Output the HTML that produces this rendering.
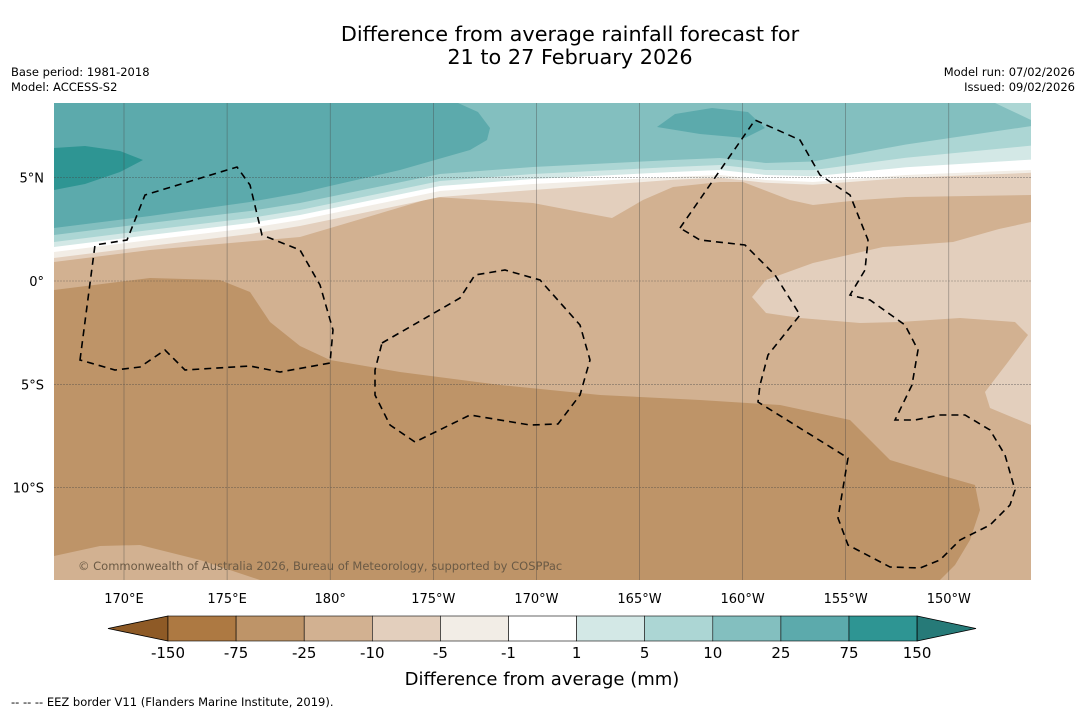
<!DOCTYPE html>
<html><head><meta charset="utf-8"><style>
body{margin:0;background:#fff;width:1085px;height:713px;overflow:hidden;font-family:"Liberation Sans","DejaVu Sans",sans-serif}
svg text{font-family:"DejaVu Sans","Liberation Sans",sans-serif}
</style></head><body>
<svg id="chart" width="1085" height="713" viewBox="0 0 1085 713" xmlns="http://www.w3.org/2000/svg">
<text x="570" y="41" text-anchor="middle" font-size="20.8">Difference from average rainfall forecast for</text>
<text x="570" y="64" text-anchor="middle" font-size="20.8">21 to 27 February 2026</text>
<text x="11" y="76" font-size="11.5">Base period: 1981-2018</text>
<text x="11" y="91" font-size="11.5">Model: ACCESS-S2</text>
<text x="1075" y="76" font-size="11.5" text-anchor="end">Model run: 07/02/2026</text>
<text x="1075" y="91" font-size="11.5" text-anchor="end">Issued: 09/02/2026</text>
<defs><clipPath id="mc"><rect x="54" y="103" width="977" height="477"/></clipPath></defs>
<g id="map" clip-path="url(#mc)">
<rect x="54" y="103" width="977" height="477" fill="#d2b191"/>
<path fill="#e3cfbd" d="M54,103 H1031 V195 L906,197 860,200 813,205 790,200 743,182 720,182 673,187 643,200 612,218 580,212 533,203 435,197 300,237 150,250 54,262 Z"/>
<g id="bands"></g>
<path fill="#acd6d4" d="M995,103 H1031 V120 Z"/>
<path fill="#5caaac" d="M54,103 H458 L478,112 490,128 487,140 470,150 400,170 330,186 300,193 250,202 150,216 54,228 Z"/>
<path fill="#5caaac" d="M657,127 L675,114 712,108 748,112 765,128 745,138 700,134 Z"/>
<path fill="#2e9593" d="M54,148 L85,146 120,151 143,160 120,172 85,184 54,190 Z"/>
<path fill="#e3cfbd" d="M752,297 L766,280 813,263 883,247 953,242 999,229 1031,222 V425 L990,408 985,392 1008,362 1028,335 1015,322 960,318 900,322 860,323 800,318 766,313 Z"/>
<path fill="#be9468" d="M54,290 L150,278 220,280 250,292 270,322 300,346 330,360 400,372 500,385 600,395 700,400 780,405 850,420 890,460 940,475 975,485 980,510 970,540 955,565 940,580 H54 Z"/>
<path fill="#d2b191" d="M54,556 L100,546 140,545 200,560 260,580 H54 Z"/>
</g>
<g id="grid" stroke="#444" stroke-width="0.6" opacity="0.6"></g>
<g id="eez" fill="none" stroke="#000" stroke-width="1.6" stroke-dasharray="7,5">
<path d="M80,360 L95,245 127,240 145,195 237,167 250,185 262,235 300,250 320,285 333,330 330,363 280,372 250,366 185,370 165,350 140,367 115,370 Z"/>
<path d="M382,343 L460,298 475,275 505,270 540,280 580,325 590,360 580,395 558,424 530,425 470,415 415,442 390,425 375,395 375,370 Z"/>
<path d="M680,228 L755,120 800,140 820,175 850,195 868,240 865,270 850,295 870,300 905,325 918,350 912,385 895,420 915,420 940,415 965,415 990,430 1005,455 1015,490 1010,505 990,525 960,540 940,560 920,568 890,567 848,545 838,518 848,458 758,402 760,385 768,355 800,315 775,275 745,245 700,240 Z"/>
</g>
<text x="78" y="570" font-size="11.5" fill="#6b5a45">© Commonwealth of Australia 2026, Bureau of Meteorology, supported by COSPPac</text>
<g id="axes"></g>
<g id="cbar"></g>
<text x="542" y="685" text-anchor="middle" font-size="18">Difference from average (mm)</text>
<text x="11" y="706" font-size="11.5">--  --  -- EEZ border V11 (Flanders Marine Institute, 2019).</text>
</svg>
<script>
const lonLabels=["170°E","175°E","180°","175°W","170°W","165°W","160°W","155°W","150°W"];
const lonValues=[170,175,180,185,190,195,200,205,210];
const latLabels=["5°N","0°","5°S","10°S"];
const latValues=[5,0,-5,-10];
const cbLevels=["-150","-75","-25","-10","-5","-1","1","5","10","25","75","150"];
const cbColors=["#ad7942","#be9468","#d2b191","#e3cfbd","#f2ede6","#ffffff","#d3e8e6","#acd6d4","#83bfbf","#5caaac","#2e9593"];
const ns="http://www.w3.org/2000/svg";
const xOf=lon=>124+(lon-170)*20.62;
const yOf=lat=>281-lat*20.66;
const grid=document.getElementById('grid'),axes=document.getElementById('axes'),cb=document.getElementById('cbar'),bands=document.getElementById('bands');
function mk(tag,attrs,parent){const e=document.createElementNS(ns,tag);for(const k in attrs)e.setAttribute(k,attrs[k]);parent.appendChild(e);return e;}
const wX=[54,150,250,300,440,533,673,720,766,813,906,1031];
const wY=[250,238,226,218,189,182,175,173,178,180,173,168];
const bandOff=[8,2,-3,-8,-15];
const bandCol=["#f2ede6","#ffffff","#d3e8e6","#acd6d4","#83bfbf"];
bandOff.forEach((o,i)=>{
 let d="M54,103 H1031";
 for(let k=wX.length-1;k>=0;k--){
  const x=wX[k];
  let s=1;
  if(i===0&&x>550)s=0.6;
  if(o<0&&x>780)s=1+(x-780)/140;
  d+=" L"+x+","+(wY[k]+o*s);
 }
 d+=" Z";
 const p=mk('path',{d:d,fill:bandCol[i]},bands);
 
 
});
lonValues.forEach((v,i)=>{
 const l=mk('line',{x1:xOf(v),x2:xOf(v),y1:103,y2:580},grid);
 
 
 const t=mk('text',{x:xOf(v),y:603,'text-anchor':'middle','font-size':13},axes);
 t.textContent=lonLabels[i];
 
 
});
latValues.forEach((v,i)=>{
 const l=mk('line',{x1:54,x2:1031,y1:yOf(v),y2:yOf(v),'stroke-dasharray':'2,1'},grid);
 
 
 const t=mk('text',{x:44,y:yOf(v)+5,'text-anchor':'end','font-size':13},axes);
 t.textContent=latLabels[i];
 
 
});
const cx0=168,cw=68.1,cy=616,ch=25;
const la=mk('polygon',{points:`108,${cy+ch/2} ${cx0},${cy} ${cx0},${cy+ch}`,fill:'#8e5a26',stroke:'#000','stroke-width':0.8},cb);


cbColors.forEach((c,i)=>{
 const r=mk('rect',{x:cx0+i*cw,y:cy,width:cw,height:ch,fill:c,stroke:'#000','stroke-width':0.6},cb);
 
 
});
const xe=cx0+cbColors.length*cw;
const ra=mk('polygon',{points:`${xe},${cy} 976,${cy+ch/2} ${xe},${cy+ch}`,fill:'#267a78',stroke:'#000','stroke-width':0.8},cb);


cbLevels.forEach((s,i)=>{
 const t=mk('text',{x:cx0+i*cw,y:658,'text-anchor':'middle','font-size':15},cb);
 t.textContent=s;
 
 
});
</script>
</body></html>
